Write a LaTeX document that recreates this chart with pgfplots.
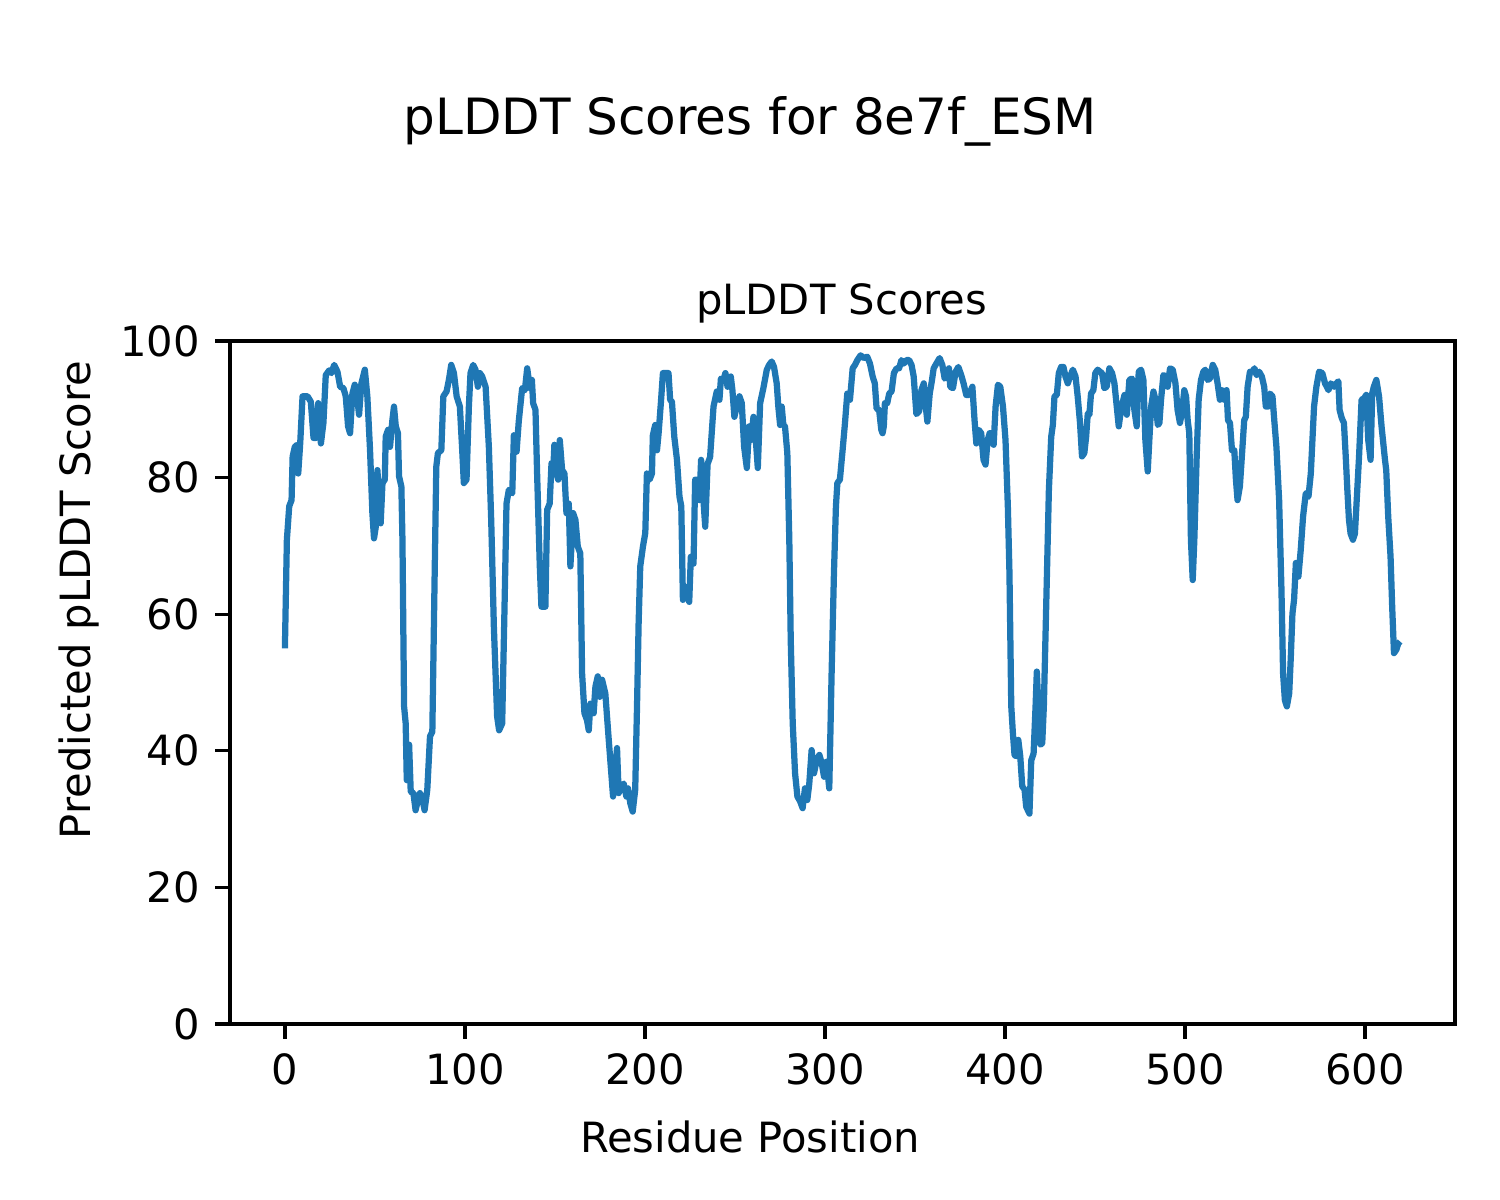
\documentclass[border=0pt]{standalone}
\usepackage{fontspec}
\setmainfont{DejaVu Sans}
\usepackage{pgfplots}
\pgfplotsset{compat=1.18}
\definecolor{mplblue}{RGB}{31,119,180}
\begin{document}
\begin{tikzpicture}
\path[use as bounding box] (-55.2bp,-42.24bp) rectangle (304.8bp,245.76bp);
\begin{axis}[
  at={(0,0)}, anchor=south west,
  scale only axis, width=294bp, height=163.92bp,
  xmin=-30.5, xmax=650, ymin=0, ymax=100,
  xtick={0,100,200,300,400,500,600},
  ytick={0,20,40,60,80,100},
  tick align=outside, xtick pos=bottom, ytick pos=left,
  major tick length=3.5bp,
  tick style={line width=0.8bp, black},
  axis line style={line width=0.8bp},
  /pgf/number format/assume math mode=true,
  ticklabel style={font=\fontsize{10bp}{12bp}\selectfont},
  xticklabel style={inner sep=0pt, yshift=-3.5bp, anchor=north},
  yticklabel style={inner sep=0pt, xshift=-3.5bp, anchor=east},
  clip=false,
]
\addplot[color=mplblue, line width=1.5bp, line join=round, mark=none] coordinates {
(0,55) (1.1,70.9) (2.4,75.8) (3.7,76.7) (4.3,83.1) (5.5,84.5) (6.7,84.8) (7.4,80.6) (8.5,85) (9.8,91.9)
(12.6,91.9) (14.4,91.1) (15.9,85.8) (17.2,85.8) (18.5,90.9) (20,85) (21.4,88) (22.7,95) (24.6,95.7) (25.9,95.3)
(27.4,96.5) (29.2,95.5) (30.7,93.3) (32.5,93.1) (33.8,91.9) (35.1,87.5) (36.2,86.5) (37.5,92.3) (38.8,93.6) (39.9,92.3)
(41.2,89.2) (42.5,93.8) (44.4,95.8) (45.8,91.9) (47.3,84) (48.6,74.8) (49.5,71.1) (50.5,72.8) (51.4,81.1) (52.3,76.7)
(53.2,73.3) (54.2,79.2) (55.5,79.7) (56,86) (57.3,87) (58.4,84.5) (59.7,88.4) (60.6,90.4) (61.6,87.5) (62.8,86.5)
(63.4,80.2) (64.7,78.7) (65.3,70.9) (66.2,46.5) (67.1,44) (67.7,35.7) (69,40.9) (69.9,34) (71.4,33.8) (72.6,31.3)
(73.9,32.8) (75,33.8) (76.3,33) (77.6,31.3) (79.1,34.3) (80.6,42.1) (81.9,42.8) (83.2,66) (84.1,81.6) (85,83.6)
(86.9,84) (88,91.9) (89.8,92.6) (91.1,94.3) (92.4,96.5) (93.9,95.3) (95.4,91.9) (97.2,90.4) (98.5,84) (99.4,79.2)
(100.9,79.7) (102.2,90.4) (103.1,95.3) (104.6,96.5) (105.9,95.8) (107.2,93.3) (108.3,95.3) (109.6,94.8) (111.5,93.3) (113.3,84.5)
(114.6,73.8) (116.1,58) (117.9,45) (119,43) (120.7,44) (122,61) (123.1,76.2) (124.4,78.2) (126.3,77.7) (127.2,86.2)
(128.7,83.8) (129.9,88.2) (131.8,93.1) (133.3,92.8) (134.6,96) (136.1,93.1) (137.2,94.3) (137.9,90.9) (139.2,89.9) (140.1,80.6)
(141.6,67) (142.5,61.1) (144.7,61.1) (145.7,75.3) (147.1,76.2) (148.1,82.1) (149,80.6) (149.7,84.8) (150.8,80.6) (151.8,79.7)
(152.7,85.5) (154,81.1) (155.3,80.6) (156.4,74.8) (157.7,76.2) (158.6,67) (160.1,74.8) (161.4,73.8) (162.7,69.9) (164.1,68.9)
(165.1,51.3) (166.4,45.5) (167.8,44.5) (168.8,43) (169.7,46.9) (171.5,45.5) (172.5,49.4) (173.8,50.9) (174.9,47.9) (176.2,50.4)
(178,48.4) (179.9,41.6) (182.3,33.3) (184.5,40.4) (185.4,33.8) (186.9,34.8) (188.2,35.2) (189.7,33.3) (190.6,34.5) (191.9,32.3)
(193.2,31.1) (194.6,34.3) (195.6,46.5) (196.5,58.7) (197.4,67) (198.9,69.9) (200.2,71.9) (201.1,80.6) (202.6,79.7) (203.9,80.6)
(204.4,86.2) (205.7,87.7) (206.7,84) (207.6,86.5) (208.9,91.1) (210,95.3) (213.1,95.3) (214,91.4) (215,91.1) (216.3,86)
(217.8,82.6) (219.2,77.2) (220.2,75.8) (221.1,62.1) (222.4,64) (223.3,63.1) (224.6,61.8) (225.5,68.4) (227,67.4) (227.9,79.7)
(229.2,79.7) (230.3,76.7) (231.2,82.6) (232.5,76.7) (233.5,72.8) (234.8,82) (236.2,83) (238.1,90.4) (239.9,92.6) (241.4,91.4)
(242.2,94.5) (243.6,94.3) (244.7,95.3) (245.9,93.3) (247.7,94.8) (248.6,92.8) (249.7,88.9) (251,90.4) (252.5,91.9) (253.8,90.9)
(255.1,84.5) (256.6,81.4) (257.9,87.5) (259,85.5) (260.3,88.9) (261.6,85.5) (262.7,81.4) (264,90.9) (265.8,93.1) (267.7,95.8)
(269,96.5) (270.4,97) (271.7,96.2) (273.2,93.8) (274.1,90.4) (275.1,87.7) (276,90.4) (276.9,87.7) (277.8,87.5) (279.1,83.6)
(280.2,70.9) (281,56.2) (282.1,44) (283.4,36.7) (284.7,33.3) (286.2,32.6) (287.6,31.6) (288.9,34.5) (290.2,32.8) (291.3,35.2)
(292.6,40.1) (293.9,36.7) (295.4,38.6) (296.9,39.4) (298.2,38.2) (299.5,36.2) (300.9,38.4) (302.4,34.5) (303.7,51.3) (305,66)
(306.1,75.8) (306.9,79.2) (308.3,79.7) (309.8,84) (311.1,87.9) (312.4,92.3) (313.9,91.4) (315.4,96) (316.7,96.5) (318,97.2)
(319.8,97.9) (321.6,97.5) (323.5,97.7) (325,96.7) (326.5,94.8) (327.7,93.8) (328.7,90.1) (330.1,89.9) (331.3,87) (332,86.5)
(332.7,87.5) (333.3,90.9) (334.6,90.9) (335.7,92.3) (337,92.6) (338.3,95.3) (339.8,96) (341.2,96) (342.5,97.2) (343.8,96.7)
(345.3,97.2) (346.8,97.2) (348.1,96.5) (349.3,94.8) (350.8,89.3) (352.3,89.7) (353.6,92.8) (354.9,93.8) (356,90.4) (356.9,88.2)
(358.2,92.3) (359.3,94) (360.4,96) (361.9,96.7) (363.7,97.5) (365.2,96.5) (366.5,94.5) (367.8,94.8) (368.9,96) (369.6,93.3)
(371.1,93.1) (372.6,95.5) (374.1,96.2) (375.7,95) (377,93.8) (378.5,92.1) (379.9,92.1) (381.9,93.3) (383.1,88.4) (384.1,85)
(385.4,87) (386.8,86.5) (388.1,82.6) (389.2,81.9) (390.4,85.5) (391.5,86.5) (392.4,86.5) (393.7,84.8) (394.8,90.4) (396.1,93.6)
(397.4,93.3) (398.9,90.4) (400.3,85.5) (401.6,75.8) (402.5,66) (403.5,46.5) (404.4,42.6) (405.3,39.4) (406.2,39.2) (407.4,41.6)
(408.5,39.2) (409.6,34.8) (410.9,34.3) (411.8,31.8) (412.7,31.3) (413.6,30.8) (414.6,38.6) (415.9,39.6) (417,46.5) (417.7,51.6)
(418.8,45) (419.7,40.9) (420.7,41.1) (421.6,46.5) (422.9,61.1) (424.4,78.2) (425.7,86) (426.6,87.7) (427.5,91.9) (428.8,92.1)
(429.9,95.3) (431.2,96.2) (432.5,96.2) (433.6,94.8) (434.9,93.8) (436.2,94.8) (437.7,95.8) (439.2,94.8) (440.4,91.9) (441.7,88)
(442.8,83.1) (444.1,83.6) (445.1,86) (446,89.4) (446.9,89.2) (447.8,92.3) (449.1,92.8) (450.2,95.3) (451.5,95.8) (452.8,95.5)
(453.9,95.3) (455.2,93.1) (456.5,93.3) (458,96) (459.5,95.3) (460.8,93.8) (462.1,90.4) (463.2,87.5) (464.5,90) (466.4,92.1)
(467.7,89.2) (469.1,94.3) (470.6,94.5) (471.9,89.9) (473.2,87.5) (474.3,95.5) (475.6,95.8) (476.9,94.3) (478,85.5) (479.3,80.9)
(480.2,85.5) (481.2,90.4) (482.5,92.6) (483.6,91.4) (484.9,87.7) (485.8,88) (486.7,91.4) (488,95) (489.5,94.8) (490.4,93.3)
(491.7,96) (493.2,95.8) (494.7,93.8) (495.9,89.9) (497.2,88) (498.4,89.7) (499.6,92.8) (500.6,91.9) (501.5,88.4) (502.4,86.5)
(503.3,70.9) (504.3,65) (505.2,70.9) (506.5,83.1) (507.6,91.4) (508.9,94.3) (510.2,95.5) (511.3,95.8) (512.6,94.3) (513.9,94.5)
(515.4,96.5) (516.8,95.8) (518.1,93.8) (519.4,91.4) (520.5,92.8) (521.8,91.4) (523.1,92.8) (523.9,88.4) (525,88) (526.1,84)
(527.4,84) (528.3,79.7) (529.2,76.7) (530.5,78.7) (531.6,83.1) (532.9,88.4) (533.8,88.9) (534.8,93.3) (536.1,95.5) (537.5,95.5)
(538.6,96) (539.8,95) (541.2,95.5) (542.7,94.8) (544,93.3) (544.9,90.4) (546.2,90.4) (547.2,92.3) (548.6,91.9) (549.6,88.4)
(550.8,84.5) (552.3,76.7) (553.6,63.5) (554.5,51.3) (555.5,47.4) (556.6,46.5) (557.9,48.4) (558.8,53.8) (559.7,60.1) (560.6,62.1)
(561.6,67.5) (563,65.5) (564.3,69.4) (565.6,74.3) (567.1,77.7) (568.6,77.2) (569.9,80.6) (570.8,85.5) (571.7,90.4) (573,93.3)
(574.5,95.5) (576.3,95.3) (577.8,93.8) (579.7,92.8) (581,93.8) (582.8,93.3) (584.1,93.8) (585.2,94.1) (585.9,89.9) (587.1,88.7)
(588.3,88) (589.3,83.1) (590.2,78.2) (591.1,73.8) (592,71.8) (593.3,70.9) (594.4,71.8) (595.7,78.2) (596.7,83.1) (598.1,91.4)
(599.4,91.6) (600.7,92.1) (601.8,85.5) (603.1,82.6) (604,92.3) (604.9,93.3) (606.3,94.3) (607.8,91.9) (609.2,87.5) (611.1,82.6)
(611.8,81.1) (612.9,74.3) (614.2,68.4) (615.1,61.1) (616.1,54.3) (617.4,54.8) (618.5,55.7) (619.5,56)
};
\end{axis}
\node[anchor=base, font=\fontsize{12bp}{14bp}\selectfont, inner sep=0pt] at (124.8bp,213.36bp) {pLDDT Scores for 8e7f\_ESM};
\node[anchor=base, font=\fontsize{10bp}{12bp}\selectfont, inner sep=0pt] at (146.8bp,170.16bp) {pLDDT Scores};
\node[anchor=base, font=\fontsize{10bp}{12bp}\selectfont, inner sep=0pt] at (124.8bp,-30.72bp) {Residue Position};
\node[anchor=base, rotate=90, font=\fontsize{10bp}{12bp}\selectfont, inner sep=0pt] at (-33.6bp,101.76bp) {Predicted pLDDT Score};
\end{tikzpicture}
\end{document}
